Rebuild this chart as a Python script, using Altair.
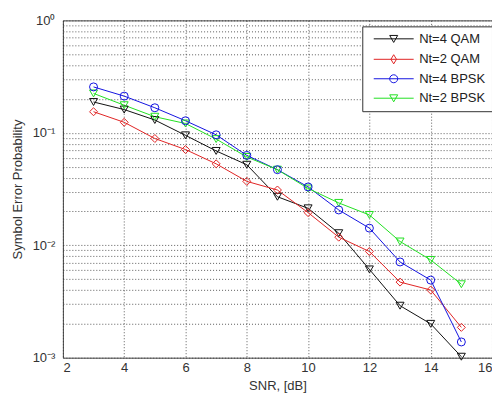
import altair as alt
import pandas as pd

snr = [3, 4, 5, 6, 7, 8, 9, 10, 11, 12, 13, 14, 15]
series_names = ["Nt=4 QAM", "Nt=2 QAM", "Nt=4 BPSK", "Nt=2 BPSK"]
nt4_qam = [0.188, 0.161, 0.130, 0.095, 0.069, 0.052, 0.027, 0.0213, 0.0128, 0.0061, 0.0029, 0.0020, 0.00102]
nt2_qam = [0.154, 0.124, 0.089, 0.071, 0.053, 0.037, 0.031, 0.0195, 0.0118, 0.0088, 0.0047, 0.0040, 0.00186]
nt4_bpsk = [0.256, 0.212, 0.167, 0.128, 0.096, 0.063, 0.047, 0.033, 0.0206, 0.0142, 0.0071, 0.0049, 0.00138]
nt2_bpsk = [0.224, 0.176, 0.139, 0.121, 0.088, 0.061, 0.047, 0.032, 0.0238, 0.0186, 0.0108, 0.0074, 0.0045]
x_ticks = [2, 4, 6, 8, 10, 12, 14, 16]
y_ticks = [round(m * 10.0 ** d, 6) for d in (-3, -2, -1) for m in range(1, 10)] + [1.0]

colors = ["#111111", "#e02424", "#1414e0", "#22e022"]
marker_of = {"Nt=4 QAM": "triangle-down", "Nt=2 QAM": "diamond",
             "Nt=4 BPSK": "circle", "Nt=2 BPSK": "triangle-down"}
# legend symbols: short line with the marker on it
legend_paths = ["M-5,0H5M-1,-0.85H1L0,0.9Z",
                "M-5,0H5M0,-1.15L0.7,0L0,1.15L-0.7,0Z",
                "M-5,0H5M1,0A1,1,0,1,1,-1,0A1,1,0,1,1,1,0Z",
                "M-5,0H5M-1,-0.85H1L0,0.9Z"]

rows = []
for name, vals in zip(series_names, [nt4_qam, nt2_qam, nt4_bpsk, nt2_bpsk]):
    for x, v in zip(snr, vals):
        rows.append({"series": name, "snr": x, "p": v})
df = pd.DataFrame(rows)

label_expr = (
    "datum.value == 1 ? '10⁰' : datum.value == 0.1 ? '10⁻¹' : "
    "datum.value == 0.01 ? '10⁻²' : datum.value == 0.001 ? '10⁻³' : ''"
)

leg = alt.Legend(title=None, orient="none", legendX=300, legendY=6,
                 symbolSize=64, symbolStrokeWidth=1, symbolOffset=19, symbolOpacity=1,
                 symbolFillColor="transparent",
                 labelOffset=19, rowPadding=5.5, padding=6,
                 labelFontSize=13, labelColor="#222", labelFont="Liberation Sans",
                 strokeColor="#333", fillColor="white")

xenc = alt.X("snr:Q", scale=alt.Scale(domain=[2, 16], nice=False),
             axis=alt.Axis(values=x_ticks, title="SNR, [dB]", grid=True, ticks=False,
                           labelPadding=4, titlePadding=5))
yenc = alt.Y("p:Q", scale=alt.Scale(type="log", domain=[0.001, 1], nice=False),
             axis=alt.Axis(values=y_ticks, labelExpr=label_expr, title="Symbol Error Probability",
                           grid=True, ticks=False, labelOverlap=False, labelBound=False,
                           labelPadding=8, titlePadding=8))
color = alt.Color("series:N", scale=alt.Scale(domain=series_names, range=colors), legend=leg)

base = alt.Chart(df)
lines = base.mark_line(strokeWidth=1).encode(x=xenc, y=yenc, color=color, order="snr:Q")

marker_layers = []
for shp in ["triangle-down", "diamond", "circle"]:
    members = [s for s in series_names if marker_of[s] == shp]
    marker_layers.append(
        base.transform_filter(alt.FieldOneOfPredicate(field="series", oneOf=members))
        .mark_point(shape=shp, filled=False, size=64, strokeWidth=1, opacity=1)
        .encode(x=xenc, y=yenc, color=color)
    )

legend_layer = base.transform_filter("datum.snr < 0").mark_point(filled=False, size=64, strokeWidth=1).encode(
    x=xenc, y=yenc, color=color,
    shape=alt.Shape("series:N", scale=alt.Scale(domain=series_names, range=legend_paths), legend=leg),
)

chart = alt.layer(lines, *marker_layers, legend_layer).properties(
    width=430, height=338,
    autosize=alt.AutoSizeParams(type="none"),
    padding={"left": 55, "top": 12, "right": 0, "bottom": 42},
).configure_view(stroke="#444", strokeWidth=1).configure_axis(
    gridColor="#333", gridDash=[1, 2], gridWidth=1, gridOpacity=0.8,
    domain=False, labelFont="Liberation Sans", labelFontSize=13, labelColor="#333",
    titleFont="Liberation Sans", titleFontSize=13, titleFontWeight="normal", titleColor="#333",
)

chart.save("out.html", embed_options={"renderer": "svg", "actions": False})
